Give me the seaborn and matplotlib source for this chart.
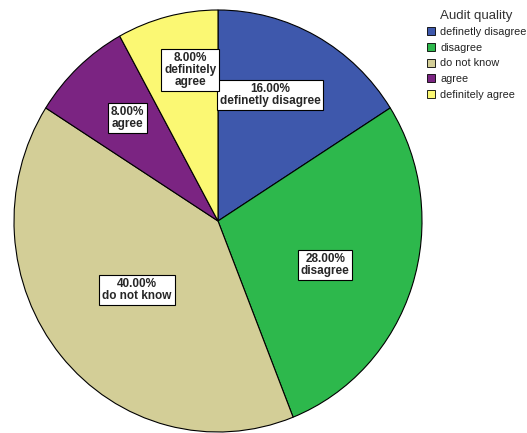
import matplotlib
matplotlib.use("Agg")
import matplotlib.pyplot as plt
import seaborn as sns
import numpy as np
from matplotlib.patches import Patch

sns.set_theme(style="white")
plt.rcParams['font.family'] = ['Liberation Sans', 'DejaVu Sans']

categories = ["definetly disagree", "disagree", "do not know", "agree", "definitely agree"]
values = [16.0, 28.0, 40.0, 8.0, 8.0]
slice_labels = ["definetly disagree", "disagree", "do not know", "agree", "definitely\nagree"]
colors = ["#3E58AC", "#2DB84C", "#D3CE97", "#7B2482", "#FBF873"]
legend_title = "Audit quality"

W, H = 527, 433
fig = plt.figure(figsize=(W / 100, H / 100), dpi=100)
cx, cy, rx, ry = 218, 221, 204, 211
ax = fig.add_axes([(cx - rx) / W, (H - cy - ry) / H, 2 * rx / W, 2 * ry / H])

wedges, _ = ax.pie(values, colors=colors, startangle=90, counterclock=False,
                   wedgeprops=dict(edgecolor="black", linewidth=0.8))
ax.set_aspect("auto")
ax.set_xlim(-1, 1)
ax.set_ylim(-1, 1)
ax.axis("off")

# placement of each in-slice label: radius fraction and angular nudge (deg)
label_radius = [0.65, 0.565, 0.515, 0.66, 0.73]
label_shift = [5.7, -3.7, 0.0, -0.8, -3.6]
for w, v, lab, rf, sh in zip(wedges, values, slice_labels, label_radius, label_shift):
    mid = np.deg2rad((w.theta1 + w.theta2) / 2 + sh)
    ax.text(rf * np.cos(mid), rf * np.sin(mid), f"{v:.2f}%\n{lab}",
            ha="center", va="center", fontsize=8.5, fontweight="bold",
            family=['Liberation Sans Narrow', 'Liberation Sans', 'DejaVu Sans'],
            linespacing=1.0,
            bbox=dict(boxstyle="square,pad=0.25", facecolor="white",
                      edgecolor="black", linewidth=0.8))

handles = [Patch(facecolor=c, edgecolor="black", linewidth=0.6) for c in colors]
leg = fig.legend(handles, categories, title=legend_title, loc="upper left",
                 bbox_to_anchor=(419 / W, 1 - 2 / H), frameon=False, fontsize=7.8,
                 title_fontsize=9.5, handlelength=0.75, handleheight=0.75,
                 handletextpad=0.5, labelspacing=0.52, borderpad=0.2)
leg._legend_box.align = "center"
leg.get_title().set_color("#333333")
for t in leg.get_texts():
    t.set_color("#222222")

fig.savefig("out.png", dpi=100)
